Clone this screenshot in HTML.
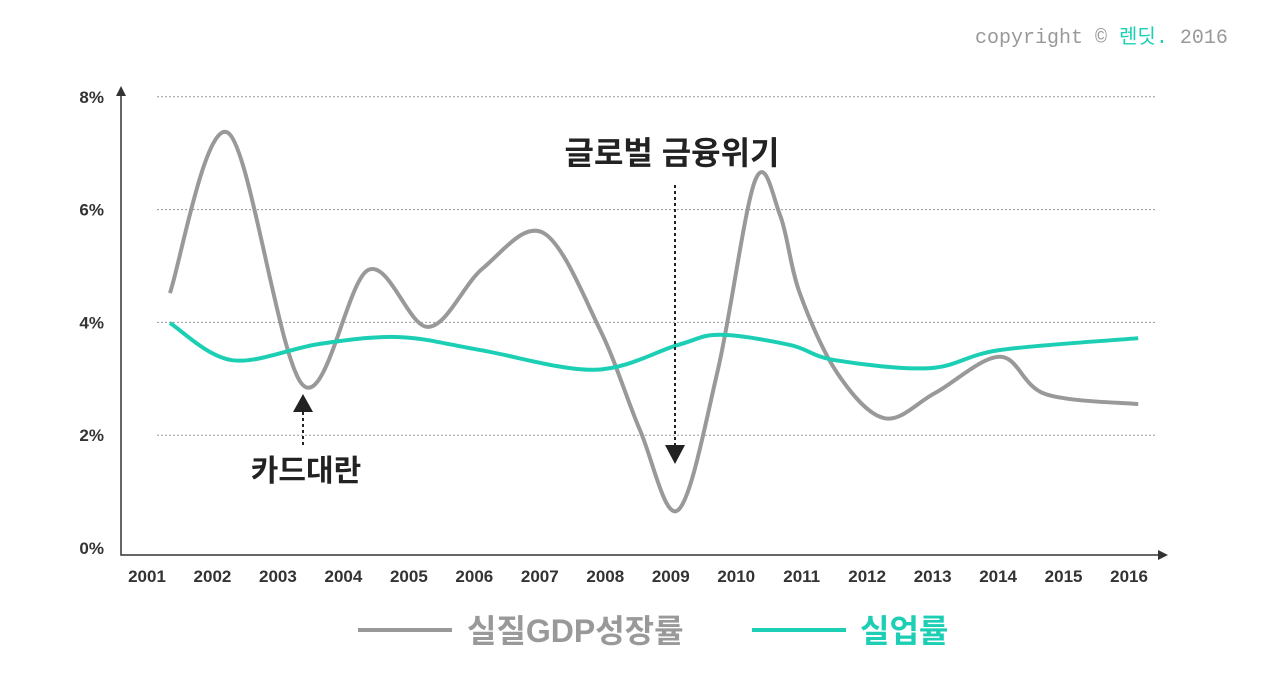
<!DOCTYPE html>
<html><head><meta charset="utf-8"><style>
body{margin:0;background:#fff;width:1280px;height:686px;overflow:hidden;font-family:"Liberation Sans","Noto Sans CJK KR",sans-serif}
</style></head><body>
<svg id="c" width="1280" height="686" style="position:absolute;left:0;top:0">
<text x="975" y="43" font-size="20" fill="#999" font-family="'Liberation Mono','Noto Sans CJK KR',monospace">copyright © <tspan fill="#1ccfb4">렌딧.</tspan> 2016</text>
</svg>
<script>
const years=['2001','2002','2003','2004','2005','2006','2007','2008','2009','2010','2011','2012','2013','2014','2015','2016'];
const yTicks=[0,2,4,6,8];
const gdpX=[2001.35,2002.24,2003.38,2004.38,2005.29,2006.13,2007.05,2007.92,2008.53,2009.11,2009.72,2010.29,2010.67,2010.97,2011.55,2012.27,2013.04,2014.03,2014.72,2016.14];
const gdpY=[4.52,7.36,2.89,4.93,3.92,4.96,5.59,3.87,2.09,0.67,3.16,6.52,5.90,4.52,3.09,2.30,2.75,3.39,2.73,2.55];
const unX=[2001.35,2002.30,2003.64,2004.86,2006.09,2007.84,2009.11,2009.75,2010.82,2011.51,2012.96,2014.03,2016.14];
const unY=[3.99,3.33,3.62,3.74,3.51,3.16,3.60,3.78,3.60,3.33,3.19,3.51,3.72];
const NS='http://www.w3.org/2000/svg',svg=document.getElementById('c');
const X=y=>147+(y-2001)*65.47, Y=v=>548-v*56.4;
function el(t,a,p){const e=document.createElementNS(NS,t);for(const k in a)e.setAttribute(k,a[k]);(p||svg).appendChild(e);return e;}
yTicks.forEach(v=>{
 if(v>0){const g=el('line',{x1:157,x2:1155,y1:Y(v),y2:Y(v),stroke:'#999','stroke-dasharray':'2,2'});
 
 }
 const t=el('text',{x:104,y:Y(v)+6,'text-anchor':'end','font-size':17,'font-weight':'bold',fill:'#333'});t.textContent=v+'%';
 
 
});
years.forEach((y,i)=>{const t=el('text',{x:X(2001+i),y:582,'text-anchor':'middle','font-size':17,'font-weight':'bold',fill:'#333'});t.textContent=y;
 
 });
const ax=el('path',{d:'M121,96 L121,555 L1160,555',fill:'none',stroke:'#333','stroke-width':1.5});


const ah=el('path',{d:'M116,96 L121,86 L126,96 Z M1158,550 L1168,555 L1158,560 Z',fill:'#333'});


function smooth(xs,ys){const p=xs.map((x,i)=>[X(x),Y(ys[i])]);let d='M'+p[0];for(let i=0;i<p.length-1;i++){const a=p[i-1]||p[i],b=p[i],c=p[i+1],e=p[i+2]||c;
 d+=` C${b[0]+(c[0]-a[0])/6},${b[1]+(c[1]-a[1])/6} ${c[0]-(e[0]-b[0])/6},${c[1]-(e[1]-b[1])/6} ${c[0]},${c[1]}`;}return d;}
const l1=el('path',{d:smooth(gdpX,gdpY),fill:'none',stroke:'#999','stroke-width':4});


const l2=el('path',{d:smooth(unX,unY),fill:'none',stroke:'#1ccfb4','stroke-width':4});


const a1=el('g',{});
el('line',{x1:303,x2:303,y1:412,y2:445,stroke:'#222','stroke-width':2,'stroke-dasharray':'3,3'},a1);
el('path',{d:'M293,412 L303,394 L313,412 Z',fill:'#222'},a1);
el('text',{x:306,y:481,'text-anchor':'middle','font-size':30,'font-weight':'bold',fill:'#222'},a1).textContent='카드대란';
const a2=el('g',{});
el('line',{x1:675,x2:675,y1:185,y2:445,stroke:'#222','stroke-width':2,'stroke-dasharray':'3,3'},a2);
el('path',{d:'M665,445 L675,464 L685,445 Z',fill:'#222'},a2);
el('text',{x:672,y:164,'text-anchor':'middle','font-size':32,'font-weight':'bold',fill:'#222'},a2).textContent='글로벌 금융위기';
const lg=el('g',{});
el('line',{x1:358,x2:452,y1:630,y2:630,stroke:'#999','stroke-width':4},lg);
el('text',{x:467,y:642,'font-size':32,'font-weight':'bold',fill:'#999'},lg).textContent='실질GDP성장률';
el('line',{x1:752,x2:846,y1:630,y2:630,stroke:'#1ccfb4','stroke-width':4},lg);
el('text',{x:860,y:642,'font-size':32,'font-weight':'bold',fill:'#1ccfb4'},lg).textContent='실업률';
</script></body></html>
